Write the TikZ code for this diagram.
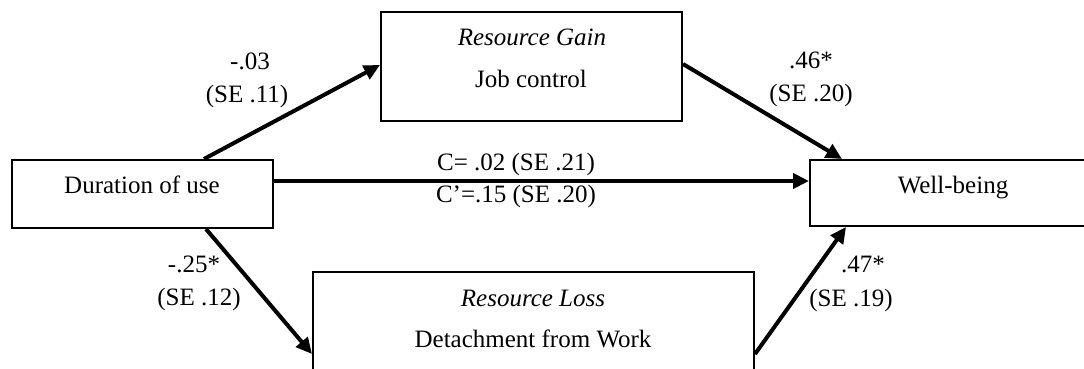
\documentclass[tikz,border=0pt]{standalone}
\usepackage{fontspec}
\setmainfont{Liberation Serif}
\usetikzlibrary{arrows.meta}
\begin{document}
\begin{tikzpicture}[x=1pt,y=-1pt,
  box/.style={draw,line width=2pt,inner sep=0pt},
  txt/.style={anchor=base,inner sep=0pt,font=\fontsize{25}{29}\selectfont},
  arr/.style={line width=4pt,-{Triangle[length=16pt,width=15pt]}}]
\useasboundingbox[fill=white] (0,0) rectangle (1084,369);
\clip (0,0) rectangle (1084,369);
% boxes
\node[box,minimum width=261pt,minimum height=68pt] (dur) at (142.5,194) {};
\node[box,minimum width=301pt,minimum height=109pt] (gain) at (531.5,66.5) {};
\node[box,minimum width=286pt,minimum height=66pt] (wb) at (953,193) {};
\node[box,minimum width=441pt,minimum height=109pt] (loss) at (533.5,326.5) {};
% box texts
\node[txt] (tdur) at (142,193) {Duration of use};
\node[txt] (tgain1) at (532,46) {\itshape Resource Gain};
\node[txt] (tgain2) at (531,87) {Job control};
\node[txt] (twb) at (953,193) {Well-being};
\node[txt] (tloss1) at (533,306) {\itshape Resource Loss};
\node[txt] (tloss2) at (533,347) {Detachment from Work};
% path labels
\node[txt] (la1) at (250,70) {-.03};
\node[txt] (la2) at (247,102) {(SE .11)};
\node[txt] (lb1) at (194,272) {-.25*};
\node[txt] (lb2) at (199,305) {(SE .12)};
\node[txt] (lc1) at (811,68) {.46*};
\node[txt] (lc2) at (811,101) {(SE .20)};
\node[txt] (ld1) at (863,272) {.47*};
\node[txt] (ld2) at (851,306) {(SE .19)};
\node[txt] (le1) at (516,170) {C= .02 (SE .21)};
\node[txt] (le2) at (516,202) {C’=.15 (SE .20)};
% connectors
\draw[arr] ([xshift=193pt]dur.north west) -- ([yshift=1.5pt]gain.west);
\draw[arr] ([xshift=195pt]dur.south west) -- ([yshift=-83pt]loss.north west);
\draw[arr] ([yshift=13pt]dur.east) -- ([yshift=12pt]wb.west);
\draw[arr] ([yshift=2.5pt]gain.east) -- ([xshift=33pt]wb.north west);
\draw[arr] ([yshift=-83pt]loss.north east) -- ([xshift=37pt]wb.south west);
\end{tikzpicture}
\end{document}
